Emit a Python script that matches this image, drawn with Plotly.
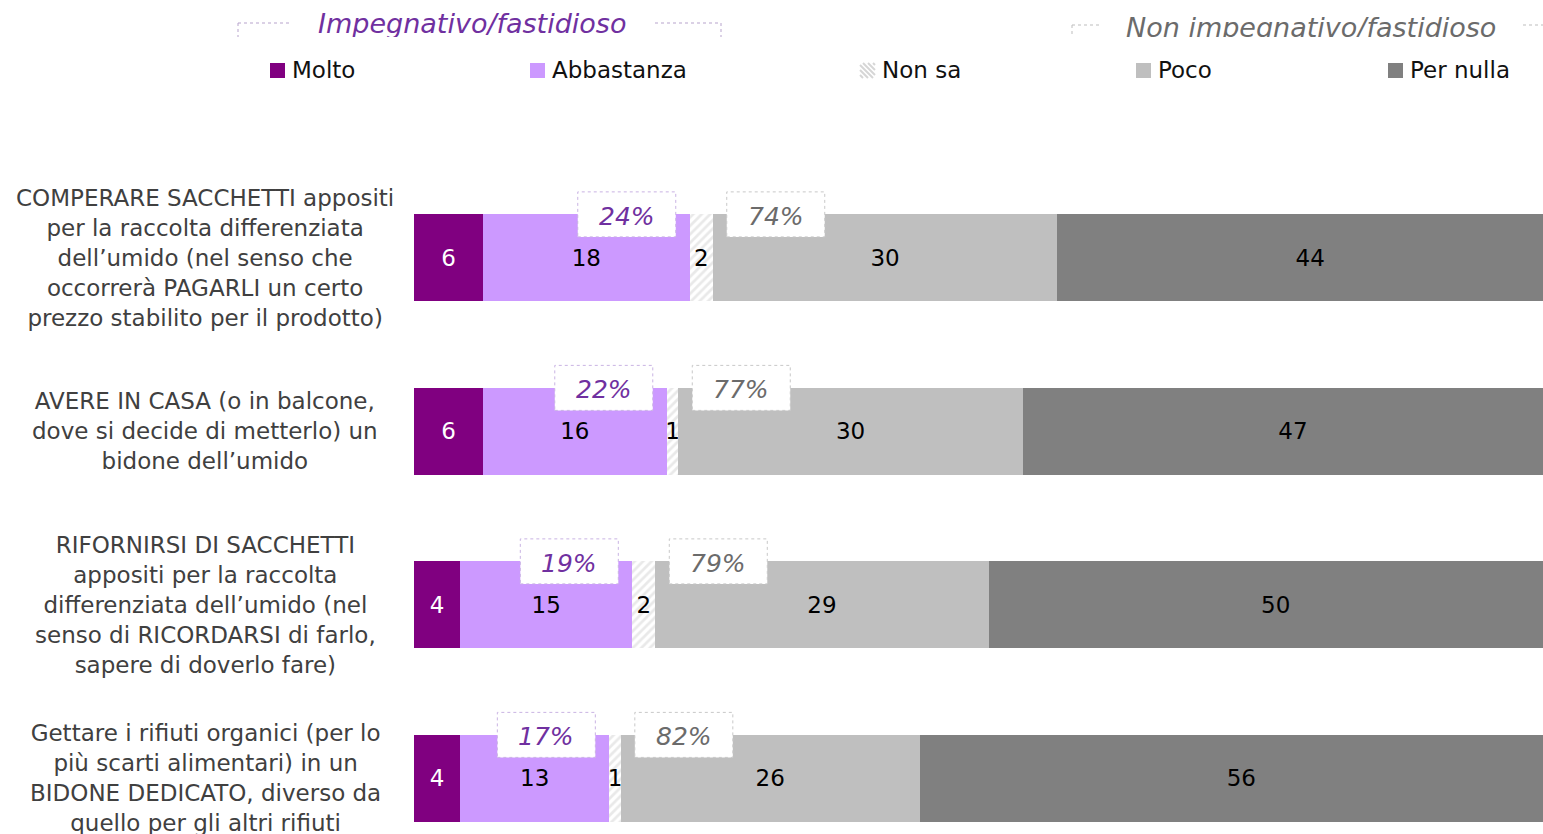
import plotly.graph_objects as go

# ---------------- data ----------------
categories = [
    "COMPERARE SACCHETTI appositi<br>per la raccolta differenziata<br>dell’umido (nel senso che<br>occorrerà PAGARLI un certo<br>prezzo stabilito per il prodotto)",
    "AVERE IN CASA (o in balcone,<br>dove si decide di metterlo) un<br>bidone dell’umido",
    "RIFORNIRSI DI SACCHETTI<br>appositi per la raccolta<br>differenziata dell’umido (nel<br>senso di RICORDARSI di farlo,<br>sapere di doverlo fare)",
    "Gettare i rifiuti organici (per lo<br>più scarti alimentari) in un<br>BIDONE DEDICATO, diverso da<br>quello per gli altri rifiuti",
]
series_names = ["Molto", "Abbastanza", "Non sa", "Poco", "Per nulla"]

molto = [6, 6, 4, 4]
abbastanza = [18, 16, 15, 13]
non_sa = [2, 1, 2, 1]
poco = [30, 30, 29, 26]
per_nulla = [44, 47, 50, 56]

tot_impegnativo = ["24%", "22%", "19%", "17%"]
tot_non_impegnativo = ["74%", "77%", "79%", "82%"]

group_titles = ["Impegnativo/fastidioso", "Non impegnativo/fastidioso"]

# ---------------- styling ----------------
FONT = "DejaVu Sans"
W, H = 1543, 834
ML, MR, MT, MB = 414, 0, 171, 0
PW, PH = W - ML - MR, H - MT - MB
FULL_PX = 1149  # pixel length of 100% (bars run past the right edge)

PURPLE_TXT = "#7030A0"
GRAY_TXT = "#6B6B6B"


def px_x(px):
    return (px - ML) / PW


def px_y(py):
    return (H - MB - py) / PH


y_idx = list(range(len(categories)))

fig = go.Figure()

specs = [
    (molto, "#800080", "white", None),
    (abbastanza, "#CC99FF", "black", None),
    (non_sa, "white", "black", "/"),
    (poco, "#BFBFBF", "black", None),
    (per_nulla, "#808080", "black", None),
]
for name, (vals, col, tcol, pat) in zip(series_names, specs):
    marker = dict(color=col, line=dict(width=0))
    if pat:
        marker["pattern"] = dict(shape=pat, fgcolor="#D4D4D4", bgcolor="white",
                                 size=6, solidity=0.45, fillmode="overlay")
    fig.add_trace(go.Bar(
        x=vals, y=y_idx, orientation="h", name=name, marker=marker,
        width=0.5, text=[str(v) for v in vals], textposition="inside",
        insidetextanchor="middle", textangle=0,
        textfont=dict(family=FONT, size=23, color=tcol),
        showlegend=False, hoverinfo="skip",
    ))

shapes = []
annotations = []

# category labels
for i, c in enumerate(categories):
    annotations.append(dict(
        x=px_x(205), xref="paper", y=i, yref="y", text=c, showarrow=False,
        xanchor="center", yanchor="middle", align="center",
        font=dict(family=FONT, size=23, color="#404040"),
    ))

# total boxes
for i in y_idx:
    cum_imp = molto[i] + abbastanza[i]
    cum_ns = cum_imp + non_sa[i]
    for anchor, x0, x1, txt, tcol, bcol in [
        (cum_imp, -112, -14, tot_impegnativo[i], PURPLE_TXT, "#C9B3E3"),
        (cum_ns, 14, 112, tot_non_impegnativo[i], GRAY_TXT, "#C8C8C8"),
    ]:
        shapes.append(dict(
            type="rect", xref="x", yref="y", xsizemode="pixel", ysizemode="pixel",
            xanchor=anchor, yanchor=i - 0.25, x0=x0, x1=x1, y0=-22.5, y1=22.5,
            fillcolor="white", line=dict(color=bcol, width=1, dash="dot"),
            layer="above",
        ))
        annotations.append(dict(
            x=anchor, xref="x", y=i - 0.25, yref="y", xshift=(x0 + x1) / 2,
            yshift=-2, text="<i>" + txt + "</i>", showarrow=False,
            xanchor="center", yanchor="middle",
            font=dict(family=FONT, size=25, color=tcol),
        ))

# header titles with brackets
annotations.append(dict(
    x=px_x(472), y=px_y(24), xref="paper", yref="paper",
    text="<i>" + group_titles[0] + "</i>", showarrow=False,
    xanchor="center", yanchor="middle", font=dict(family=FONT, size=27, color=PURPLE_TXT)))
annotations.append(dict(
    x=px_x(1311), y=px_y(27), xref="paper", yref="paper",
    text="<i>" + group_titles[1] + "</i>", showarrow=False,
    xanchor="center", yanchor="middle", font=dict(family=FONT, size=27, color=GRAY_TXT)))

# clip descenders of header text (as in reference)
for cx, wdt in [(472, 370), (1311, 420)]:
    annotations.append(dict(
        x=px_x(cx), y=px_y(37), xref="paper", yref="paper", text=" ",
        showarrow=False, xanchor="center", yanchor="top", width=wdt, height=12,
        bgcolor="white", borderpad=0, borderwidth=0))


def seg(x0, y0, x1, y1, color, dash="dot", width=1):
    shapes.append(dict(type="line", xref="paper", yref="paper",
                       x0=px_x(x0), y0=px_y(y0), x1=px_x(x1), y1=px_y(y1),
                       line=dict(color=color, width=width, dash=dash), layer="above"))


BR1 = "#B7A3CC"
BR2 = "#BDBDBD"
seg(238, 23, 292, 23, BR1)
seg(238, 23, 238, 37, BR1)
seg(655, 23, 721, 23, BR1)
seg(721, 23, 721, 37, BR1)
seg(1072, 25, 1100, 25, BR2)
seg(1072, 25, 1072, 37, BR2)
seg(1523, 25, 1543, 25, BR2)

# legend (manual)
legend_pos = [270, 530, 860, 1136, 1388]
legend_cols = ["#800080", "#CC99FF", None, "#BFBFBF", "#808080"]
for name, lx, col in zip(series_names, legend_pos, legend_cols):
    sq0, sq1 = 63, 78
    if col:
        shapes.append(dict(type="rect", xref="paper", yref="paper",
                           x0=px_x(lx), x1=px_x(lx + 15), y0=px_y(sq1), y1=px_y(sq0),
                           fillcolor=col, line=dict(width=0)))
    else:
        for c in [3, 8, 13, 18, 23, 28]:
            u0, u1 = max(0, c - 15), min(15, c)
            seg(lx + u0, sq1 - (c - u0), lx + u1, sq1 - (c - u1), "#D6D6D6", dash="solid", width=2)
    annotations.append(dict(
        x=px_x(lx + 20), y=px_y(70), xref="paper", yref="paper", text=name,
        showarrow=False, xanchor="left", yanchor="middle",
        font=dict(family=FONT, size=23, color="#111111")))

fig.update_layout(
    width=W, height=H, margin=dict(l=ML, r=MR, t=MT, b=MB, pad=0),
    barmode="stack", bargap=0.5,
    plot_bgcolor="white", paper_bgcolor="white",
    xaxis=dict(range=[0, 100 * PW / FULL_PX], visible=False, fixedrange=True),
    yaxis=dict(range=[(PH / 173.5) - 0.5, -0.5], visible=False, fixedrange=True),
    uniformtext=dict(minsize=23, mode="show"),
    shapes=shapes, annotations=annotations,
    font=dict(family=FONT),
)

fig.write_html("out.html", config={"displayModeBar": False},
               post_script="document.body.style.margin='0';document.body.style.overflow='hidden';")
